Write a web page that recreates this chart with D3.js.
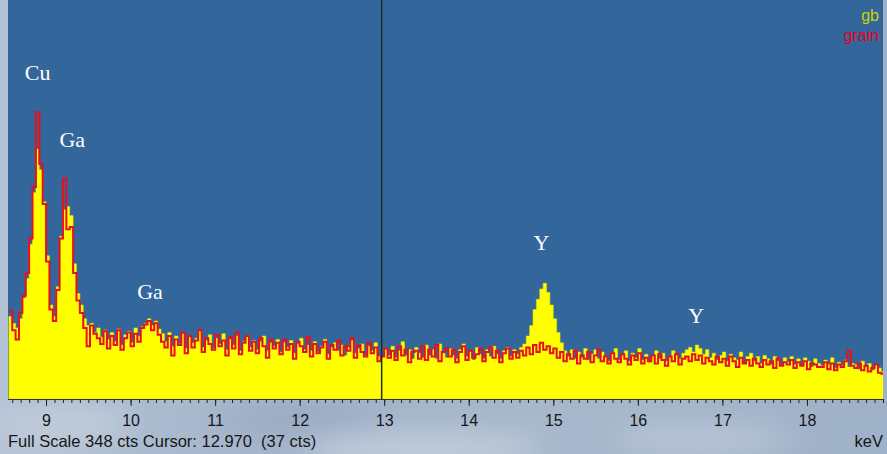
<!DOCTYPE html>
<html>
<head>
<meta charset="utf-8">
<script src="https://cdn.jsdelivr.net/npm/d3@7"></script>
<style>
  body { margin: 0; background: #a9b9ce; }
  svg { display: block; }
</style>
</head>
<body>
<svg id="chart" width="887" height="454"></svg>
<script>
// channel grid of the spectrum (keV)
var startKeV = 8.56
var binKeV = 0.04

// counts per channel
var gb = [
  72, 66, 62, 70, 88, 105, 135, 180, 218, 200,
  172, 125, 82, 72, 98, 142, 165, 168, 160, 118,
  92, 82, 70, 64, 66, 58, 62, 54, 60, 52,
  58, 50, 61, 47, 56, 59, 49, 62, 55, 63,
  66, 70, 64, 68, 61, 57, 50, 58, 46, 55,
  48, 57, 44, 54, 49, 53, 59, 45, 51, 56,
  44, 53, 48, 57, 43, 52, 47, 55, 42, 50,
  54, 45, 51, 43, 50, 55, 42, 49, 46, 52,
  41, 49, 45, 51, 40, 48, 53, 43, 47, 42,
  50, 41, 46, 52, 39, 45, 49, 42, 47, 38,
  45, 51, 40, 44, 48, 38, 46, 42, 49, 37,
  37, 44, 38, 46, 36, 42, 50, 38, 43, 35,
  45, 40, 36, 47, 38, 43, 35, 48, 40, 36,
  44, 38, 35, 43, 48, 37, 42, 34, 45, 39,
  35, 43, 37, 46, 39, 35, 42, 45, 37, 43,
  39, 45, 48, 55, 64, 78, 87, 96, 101, 93,
  82, 70, 58, 49, 42, 37, 43, 35, 41, 36,
  44, 34, 39, 43, 35, 41, 37, 33, 40, 44,
  34, 38, 42, 33, 40, 36, 44, 34, 39, 32,
  38, 42, 35, 40, 33, 37, 42, 38, 35, 40,
  43, 45, 41, 47, 44, 39, 43, 36, 40, 34,
  38, 41, 33, 39, 36, 34, 41, 31, 37, 40,
  33, 37, 31, 38, 35, 30, 37, 33, 29, 36,
  32, 37, 30, 35, 29, 36, 33, 28, 35, 31,
  29, 34, 30, 36, 27, 32, 29, 34, 28, 31,
  30, 26, 33, 28, 31, 25, 30, 27, 24
]

var grain = [
  77, 60, 52, 75, 90, 110, 140, 185, 250, 205,
  170, 120, 78, 68, 95, 140, 192, 148, 150, 110,
  86, 75, 62, 46, 64, 57, 53, 48, 59, 44,
  55, 47, 60, 43, 53, 58, 46, 57, 50, 62,
  65, 68, 60, 66, 56, 50, 45, 55, 38, 52,
  47, 58, 40, 55, 45, 51, 60, 41, 53, 48,
  43, 56, 46, 51, 38, 54, 44, 58, 39, 49,
  55, 42, 50, 40, 53, 46, 36, 52, 44, 49,
  39, 52, 43, 48, 35, 50, 46, 41, 54, 37,
  48, 40, 45, 50, 35, 47, 43, 51, 38, 46,
  42, 53, 36, 47, 41, 37, 49, 40, 45, 33,
  37, 44, 36, 42, 34, 46, 38, 43, 32, 41,
  42, 35, 46, 34, 43, 37, 47, 33, 41, 44,
  37, 43, 32, 41, 46, 34, 42, 36, 39, 44,
  33, 41, 45, 36, 42, 32, 40, 44, 35, 41,
  36, 42, 38, 45, 39, 47, 41, 49, 43, 46,
  40, 44, 36, 41, 33, 39, 35, 42, 31, 38,
  35, 41, 32, 38, 43, 33, 37, 31, 40, 35,
  32, 39, 35, 30, 38, 34, 40, 31, 36, 33,
  38, 31, 39, 34, 29, 37, 33, 39, 30, 35,
  37, 33, 39, 34, 38, 31, 36, 33, 30, 37,
  32, 35, 29, 37, 33, 28, 36, 31, 34, 29,
  35, 31, 28, 34, 30, 33, 27, 35, 29, 32,
  30, 34, 27, 32, 29, 33, 26, 31, 30, 28,
  28, 32, 26, 31, 25, 30, 28, 33, 42, 29,
  27, 31, 25, 29, 24, 27, 30, 23, 22
]

var majorTicks = [9, 10, 11, 12, 13, 14, 15, 16, 17, 18]
var seriesNames = ['gb', 'grain']

// element labels, placed in keV / counts
var peakNames = ['Cu', 'Ga', 'Ga', 'Y', 'Y']
var peakKeV = [8.9, 9.31, 10.23, 14.86, 16.69]
var peakCts = [278, 220, 87, 130, 66]

var fullScale = 348
var cursorKeV = 12.970
var cursorCts = 37

var svg = d3.select('#chart')
var W = 887, H = 454
var plot = {left: 8, right: 883, top: 0, bottom: 399}

var x = d3.scaleLinear().domain([8.55, 18.9]).range([plot.left, plot.right])
var y = d3.scaleLinear().domain([0, fullScale]).range([plot.bottom, plot.top])

var defs = svg.append('defs')

// window background below the plot, soft cloudy grey-blue
var bg = defs.append('linearGradient').attr('id', 'bg')
bg.append('stop').attr('offset', '0%').attr('stop-color', '#b3c2d5')
bg.append('stop').attr('offset', '35%').attr('stop-color', '#a2b3c9')
bg.append('stop').attr('offset', '60%').attr('stop-color', '#a8b8cc')
bg.append('stop').attr('offset', '100%').attr('stop-color', '#9fb1c8')
defs.append('filter').attr('id', 'blur')
  .append('feGaussianBlur').attr('stdDeviation', 14)

svg.append('rect').attr('width', W).attr('height', H).attr('fill', 'url(#bg)')

var clouds = svg.append('g').attr('filter', 'url(#blur)')
clouds.append('ellipse').attr('cx', 60).attr('cy', 425).attr('rx', 70).attr('ry', 18).attr('fill', '#c1cddc')
clouds.append('ellipse').attr('cx', 420).attr('cy', 450).attr('rx', 120).attr('ry', 16).attr('fill', '#c4cfdd')
clouds.append('ellipse').attr('cx', 700).attr('cy', 440).attr('rx', 90).attr('ry', 14).attr('fill', '#b9c6d6')
clouds.append('ellipse').attr('cx', 300).attr('cy', 420).attr('rx', 80).attr('ry', 10).attr('fill', '#95a8c1')

defs.append('clipPath').attr('id', 'clip')
  .append('rect')
    .attr('x', plot.left).attr('y', plot.top)
    .attr('width', plot.right - plot.left).attr('height', plot.bottom - plot.top)

var g = svg.append('g').attr('clip-path', 'url(#clip)')

g.append('rect')
  .attr('x', plot.left).attr('y', plot.top)
  .attr('width', plot.right - plot.left).attr('height', plot.bottom - plot.top)
  .attr('fill', '#33669a')

function toPoints(arr){
  var pts = arr.map((c, i) => [startKeV + i*binKeV, c])
  pts.push([startKeV + arr.length*binKeV, arr[arr.length - 1]])
  return pts
}

var area = d3.area()
  .curve(d3.curveStepAfter)
  .x(d => x(d[0]))
  .y0(y(0))
  .y1(d => y(d[1]))

var line = d3.line()
  .curve(d3.curveStepAfter)
  .x(d => x(d[0]))
  .y(d => y(d[1]))

g.append('path')
  .datum(toPoints(gb))
  .attr('d', area)
  .attr('fill', '#ffff00')
  .attr('stroke', '#d8e000')
  .attr('stroke-width', 0.6)

g.append('path')
  .datum(toPoints(grain))
  .attr('d', line)
  .attr('fill', 'none')
  .attr('stroke', '#e8101c')
  .attr('stroke-width', 2)

// cursor
g.append('line')
  .attr('x1', x(cursorKeV)).attr('x2', x(cursorKeV))
  .attr('y1', plot.top).attr('y2', plot.bottom)
  .attr('stroke', '#1e2a36')
  .attr('stroke-width', 1.5)

// peak labels
g.selectAll('text.peak')
  .data(peakNames)
  .join('text')
    .attr('class', 'peak')
    .attr('x', (d, i) => x(peakKeV[i]))
    .attr('y', (d, i) => y(peakCts[i]))
    .attr('text-anchor', 'middle')
    .attr('fill', '#fff')
    .style('font', '22px "Liberation Serif", "Times New Roman", serif')
    .text(d => d)

// legend
svg.selectAll('text.legend')
  .data(seriesNames)
  .join('text')
    .attr('class', 'legend')
    .attr('x', 879)
    .attr('y', (d, i) => 21 + i*20)
    .attr('text-anchor', 'end')
    .attr('fill', (d, i) => i ? '#e3001b' : '#c9d400')
    .style('font', '16px "Liberation Sans", Arial, sans-serif')
    .text(d => d)

// energy axis: minor ticks every 0.1 keV, labelled majors
var minorTicks = d3.range(86, 190).map(d => d/10)
svg.append('g')
  .attr('transform', `translate(0,${plot.bottom})`)
  .call(d3.axisBottom(x).tickValues(minorTicks).tickSize(4).tickFormat(''))
  .call(a => a.select('.domain').remove())
  .selectAll('line').attr('stroke', '#222')

var xAxis = svg.append('g')
  .attr('transform', `translate(0,${plot.bottom})`)
  .call(d3.axisBottom(x).tickValues(majorTicks).tickSize(7).tickPadding(9).tickFormat(d3.format('d')))
xAxis.select('.domain').remove()
xAxis.selectAll('line').attr('stroke', '#222')
xAxis.selectAll('text')
  .attr('fill', '#161616')
  .style('font', '16px "Liberation Sans", Arial, sans-serif')

svg.append('line')
  .attr('x1', plot.left).attr('x2', plot.right)
  .attr('y1', plot.bottom + 0.5).attr('y2', plot.bottom + 0.5)
  .attr('stroke', '#333')

// status line
svg.append('text')
  .attr('x', 8).attr('y', 447)
  .attr('fill', '#161616')
  .style('font', '16.5px "Liberation Sans", Arial, sans-serif')
  .style('white-space', 'pre')
  .text(`Full Scale ${fullScale} cts Cursor: ${cursorKeV.toFixed(3)}  (${cursorCts} cts)`)

svg.append('text')
  .attr('x', 883).attr('y', 447)
  .attr('text-anchor', 'end')
  .attr('fill', '#161616')
  .style('font', '16.5px "Liberation Sans", Arial, sans-serif')
  .text('keV')
</script>
</body>
</html>
